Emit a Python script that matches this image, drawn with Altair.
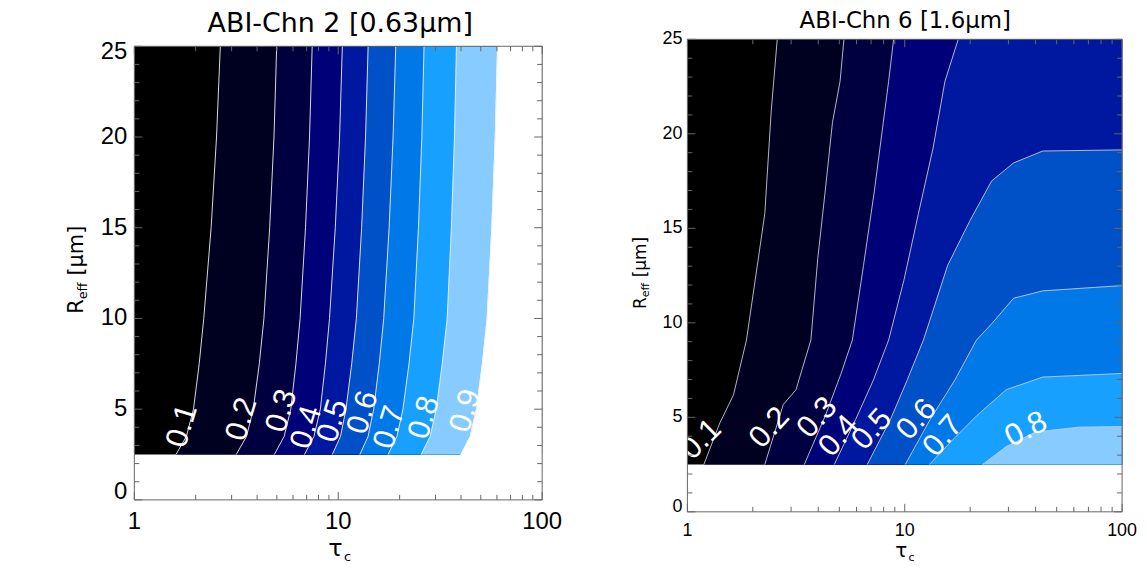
import altair as alt
import pandas as pd

FONT = "Liberation Sans"
TFONT = "DejaVu Sans"

# band colours: <0.1, 0.1-0.2, ..., 0.8-0.9, >0.9
BAND_COLORS = ["#000000", "#000020", "#000040", "#000078", "#0018a0",
               "#0050c8", "#0078e8", "#18a0ff", "#88ccff", "#ffffff"]
LEVEL_NAMES = ["0.1", "0.2", "0.3", "0.4", "0.5", "0.6", "0.7", "0.8", "0.9"]
REFF_MIN = 2.5
TAU_MIN = 1
TAU_MAX = 100
REFF_MAX = 25

# ---------- ABI channel 2 (0.63 um): contour tau at each R_eff ----------
L_REFF = [2.5, 3.5, 5, 7.5, 10, 15, 20, 25]
L01_TAU = [1.60, 1.80, 1.95, 2.08, 2.19, 2.38, 2.53, 2.64]
L02_TAU = [3.16, 3.55, 3.83, 4.10, 4.32, 4.61, 4.84, 4.99]
L03_TAU = [4.86, 5.43, 5.85, 6.20, 6.50, 6.91, 7.23, 7.45]
L04_TAU = [6.83, 7.60, 8.17, 8.65, 9.06, 9.67, 10.15, 10.47]
L05_TAU = [9.35, 10.26, 10.91, 11.64, 12.27, 13.02, 13.61, 14.01]
L06_TAU = [12.76, 14.01, 14.92, 15.89, 16.71, 17.76, 18.57, 19.14]
L07_TAU = [17.54, 19.40, 20.76, 22.23, 23.48, 24.73, 25.70, 26.34]
L08_TAU = [25.49, 28.23, 30.23, 32.34, 34.21, 35.86, 37.14, 37.98]
L09_TAU = [39.95, 44.40, 47.64, 50.92, 53.73, 56.65, 58.90, 60.46]

LLAB_TAU = [1.72, 3.37, 5.29, 7.01, 9.45, 13.24, 17.88, 26.5, 42.3]
LLAB_REFF = [4.07, 4.44, 4.90, 3.99, 4.35, 4.81, 3.99, 4.53, 4.90]
LLAB_ANGLE = [287, 287, 287, 287, 287, 287, 287, 287, 287]

# ---------- ABI channel 6 (1.6 um): contour points ----------
R01_TAU = [1.19, 1.41, 1.63, 1.87, 2.27, 2.43, 2.59]
R01_REFF = [2.5, 4.70, 6.19, 9.09, 15.76, 21.2, 25]
R02_TAU = [2.27, 2.76, 3.16, 3.70, 3.98, 4.30, 4.65, 5.04, 5.25]
R02_REFF = [2.5, 5.67, 6.46, 9.09, 13.41, 16.91, 20.6, 22.78, 25]
R03_TAU = [3.45, 4.33, 5.07, 5.74, 6.46, 7.25, 7.98, 8.43, 8.89]
R03_REFF = [2.5, 5.14, 7.25, 9.09, 13.03, 16.98, 20.67, 22.78, 25]
R04_TAU = [4.74, 5.94, 7.18, 8.43, 9.91, 11.56, 13.50, 15.31, 17.62]
R04_REFF = [2.5, 4.88, 6.98, 9.09, 12.25, 15.78, 19.25, 22.78, 25]
R05_TAU = [6.72, 8.59, 10.27, 12.19, 15.76, 19.88, 25.09, 31.66, 43.14, 100]
R05_REFF = [2.5, 4.88, 6.98, 9.09, 13.04, 15.37, 17.5, 18.46, 19.09, 19.15]
R06_TAU = [10.05, 13.08, 17.02, 21.38, 25.09, 31.66, 43.14, 100]
R06_REFF = [2.5, 4.88, 6.98, 9.09, 9.94, 11.3, 11.69, 11.97]
R07_TAU = [12.98, 16.39, 21.49, 29.30, 43.14, 100]
R07_REFF = [2.5, 3.74, 5.10, 6.46, 7.13, 7.32]
R08_TAU = [22.78, 29.30, 39.9, 63.4, 100]
R08_REFF = [2.5, 3.45, 4.22, 4.48, 4.51]

RLAB_TAU = [1.16, 2.39, 3.97, 4.98, 7.08, 11.37, 15.04, 36.2]
RLAB_REFF = [3.82, 4.44, 4.97, 4.00, 4.35, 4.88, 4.00, 4.35]
RLAB_ANGLE = [315, 312, 312, 311, 312, 312, 311, 333]

X_MAJOR = [1, 10, 100]
X_LABELS = ["1", "10", "100"]
X_MINOR = [2, 3, 4, 5, 6, 7, 8, 9, 20, 30, 40, 50, 60, 70, 80, 90]
Y_MID = [5, 10, 15, 20]
Y_MAJOR = [0, 5, 10, 15, 20, 25]
Y_MINOR = [1, 2, 3, 4, 6, 7, 8, 9, 11, 12, 13, 14, 16, 17, 18, 19, 21, 22, 23, 24]


def one_row():
    return pd.DataFrame({"k": [0]})


def text_layer(txt, x, y, size, angle=0, align="left", baseline="alphabetic",
               color="black", font=FONT):
    return alt.Chart(one_row()).mark_text(
        text=txt, font=font, fontSize=size, angle=angle, align=align,
        baseline=baseline, color=color
    ).encode(x=alt.value(x), y=alt.value(y))


def build_panel(CW, CH, box, contours, lab_tau, lab_reff, lab_angle, p):
    L, R, T, B = box
    xs = alt.Scale(type="log", domain=[TAU_MIN, TAU_MAX], range=[L, R], nice=False)
    ys = alt.Scale(domain=[0, REFF_MAX], range=[B, T], nice=False, zero=False)
    X = alt.X("tau:Q", scale=xs, axis=None)
    Y = alt.Y("reff:Q", scale=ys, axis=None)

    layers = []
    base_df = pd.DataFrame({"tau": [TAU_MIN, TAU_MAX], "reff": [REFF_MAX, REFF_MAX],
                            "base": [REFF_MIN, REFF_MIN]})
    layers.append(alt.Chart(base_df).mark_area(color=BAND_COLORS[0]).encode(
        x=X, y=Y, y2="base:Q"))

    line_rows = []
    for i, (taus, reffs) in enumerate(contours):
        t = list(taus)
        r = list(reffs)
        for a, b in zip(t, r):
            line_rows.append({"tau": a, "reff": b, "lev": LEVEL_NAMES[i]})
        if r[-1] >= REFF_MAX and t[-1] < TAU_MAX:
            t = t + [TAU_MAX]
            r = r + [REFF_MAX]
        col = BAND_COLORS[i + 1]
        if col == "#ffffff":
            # no-data region: white, slightly overlapping the lower edge
            df = pd.DataFrame({"tau": t, "reff": r, "base": [REFF_MIN - 0.08] * len(t)})
            layers.append(alt.Chart(df).mark_area(color=col, stroke=col, strokeWidth=1).encode(
                x=X, y=Y, y2="base:Q"))
        else:
            df = pd.DataFrame({"tau": t, "reff": r, "base": [REFF_MIN] * len(t)})
            layers.append(alt.Chart(df).mark_area(color=col).encode(
                x=X, y=Y, y2="base:Q"))

    layers.append(alt.Chart(pd.DataFrame(line_rows)).mark_line(
        color=p["line_color"], strokeWidth=1, opacity=0.9).encode(
        x=X, y=Y, detail="lev:N"))

    lab_df = pd.DataFrame({"tau": lab_tau, "reff": lab_reff, "ang": lab_angle,
                           "txt": LEVEL_NAMES[:len(lab_tau)]})
    layers.append(alt.Chart(lab_df).mark_text(
        font=FONT, fontSize=p["lab_fs"], color="white", align="center", baseline="middle"
    ).encode(x=X, y=Y, text="txt:N", angle=alt.Angle("ang:Q", scale=None)))

    # frame
    layers.append(alt.Chart(one_row()).mark_rect(
        fillOpacity=0, stroke="#666666", strokeWidth=1).encode(
        x=alt.value(L), x2=alt.value(R), y=alt.value(T), y2=alt.value(B)))

    # inward ticks on all four sides
    tk = "#666666"
    for vals, ln in ((X_MAJOR, 8), (X_MINOR, 5)):
        d = pd.DataFrame({"tau": vals})
        layers.append(alt.Chart(d).mark_rule(color=tk, strokeWidth=1).encode(
            x=X, y=alt.value(B), y2=alt.value(B - ln)))
        layers.append(alt.Chart(d).mark_rule(color=tk, strokeWidth=1).encode(
            x=X, y=alt.value(T), y2=alt.value(T + ln)))
    for vals, ln in ((Y_MAJOR, 8), (Y_MINOR, 5)):
        d = pd.DataFrame({"reff": vals})
        layers.append(alt.Chart(d).mark_rule(color=tk, strokeWidth=1).encode(
            y=Y, x=alt.value(L), x2=alt.value(L + ln)))
        layers.append(alt.Chart(d).mark_rule(color=tk, strokeWidth=1).encode(
            y=Y, x=alt.value(R), x2=alt.value(R - ln)))

    # tick labels
    xl = pd.DataFrame({"tau": X_MAJOR, "lab": X_LABELS})
    layers.append(alt.Chart(xl).mark_text(
        font=FONT, fontSize=p["tick_fs"], color="black", align="center", baseline="middle"
    ).encode(x=X, y=alt.value(B + p["xlab_dy"]), text="lab:N"))
    ymid = pd.DataFrame({"reff": Y_MID, "lab": [str(v) for v in Y_MID]})
    layers.append(alt.Chart(ymid).mark_text(
        font=FONT, fontSize=p["tick_fs"], color="black", align="right", baseline="middle"
    ).encode(y=Y, x=alt.value(L - p["ylab_dx"]), text="lab:N"))
    ytop = pd.DataFrame({"reff": [REFF_MAX], "lab": [str(REFF_MAX)]})
    layers.append(alt.Chart(ytop).mark_text(
        font=FONT, fontSize=p["tick_fs"], color="black", align="right", baseline="middle",
        dy=p["ytop_dy"]).encode(y=Y, x=alt.value(L - p["ylab_dx"]), text="lab:N"))
    ybot = pd.DataFrame({"reff": [0], "lab": ["0"]})
    layers.append(alt.Chart(ybot).mark_text(
        font=FONT, fontSize=p["tick_fs"], color="black", align="right", baseline="middle",
        dy=p["ybot_dy"]).encode(y=Y, x=alt.value(L - p["ylab_dx"]), text="lab:N"))

    # panel title
    layers.append(text_layer(p["title"], p["title_x"], p["title_y"], p["title_fs"],
                             align="center", baseline="middle", font=TFONT))
    # y title  R_eff [um]
    yt = p["yt"]
    fs, sf = p["ytitle_fs"], p["sub_fs"]
    r_len = 0.695 * fs
    eff_len = 1.32 * sf
    layers.append(text_layer("R", yt[0], yt[1], fs, angle=270, font=TFONT))
    layers.append(text_layer("eff", yt[0] + p["sub_dx"], yt[1] - r_len, sf, angle=270, font=TFONT))
    layers.append(text_layer("[\u03bcm]", yt[0], yt[1] - r_len - eff_len - 0.32 * fs,
                             fs, angle=270, font=TFONT))
    # x title tau_c
    xt = p["xt"]
    xf = p["xtitle_fs"]
    layers.append(text_layer("\u03c4", xt[0], xt[1], xf, font=TFONT))
    layers.append(text_layer("c", xt[0] + 0.66 * xf, xt[1] + p["sub_dy"], p["xsub_fs"], font=TFONT))

    return alt.layer(*layers).properties(width=CW, height=CH)


left_contours = [(L01_TAU, L_REFF), (L02_TAU, L_REFF), (L03_TAU, L_REFF), (L04_TAU, L_REFF),
                 (L05_TAU, L_REFF), (L06_TAU, L_REFF), (L07_TAU, L_REFF), (L08_TAU, L_REFF),
                 (L09_TAU, L_REFF)]
right_contours = [(R01_TAU, R01_REFF), (R02_TAU, R02_REFF), (R03_TAU, R03_REFF),
                  (R04_TAU, R04_REFF), (R05_TAU, R05_REFF), (R06_TAU, R06_REFF),
                  (R07_TAU, R07_REFF), (R08_TAU, R08_REFF)]

# canvas coordinates: left canvas starts at page (8, 8), right canvas at page (575, 8)
left = build_panel(567, 560, (127, 537, 37, 493), left_contours,
                   LLAB_TAU, LLAB_REFF, LLAB_ANGLE, {
    "tick_fs": 24, "xlab_dy": 22, "ylab_dx": 7, "ytop_dy": 6, "ybot_dy": -8,
    "line_color": "#f0f0f0", "lab_fs": 31,
    "title": "ABI-Chn 2 [0.63\u03bcm]", "title_x": 334, "title_y": 15, "title_fs": 27,
    "yt": (75, 306), "ytitle_fs": 21, "sub_fs": 13, "sub_dx": 4,
    "xt": (322, 549), "xtitle_fs": 24, "xsub_fs": 13, "sub_dy": 5,
})
right = build_panel(570, 560, (116, 553, 30, 505), right_contours,
                    RLAB_TAU, RLAB_REFF, RLAB_ANGLE, {
    "tick_fs": 18, "xlab_dy": 19, "ylab_dx": 5, "ytop_dy": 0, "ybot_dy": -5,
    "line_color": "#c8c8d8", "lab_fs": 31,
    "title": "ABI-Chn 6 [1.6\u03bcm]", "title_x": 335, "title_y": 12, "title_fs": 23,
    "yt": (74, 301), "ytitle_fs": 17, "sub_fs": 11, "sub_dx": 3.5,
    "xt": (325, 550), "xtitle_fs": 20, "xsub_fs": 11, "sub_dy": 4,
})

chart = alt.hconcat(left, right, spacing=0).properties(
    padding={"left": 0, "top": 0, "right": 0, "bottom": 0}
).configure(background="white", view=alt.ViewConfig(stroke="transparent", strokeWidth=0))

chart.save("out.html", embed_options={"renderer": "svg", "actions": False})
